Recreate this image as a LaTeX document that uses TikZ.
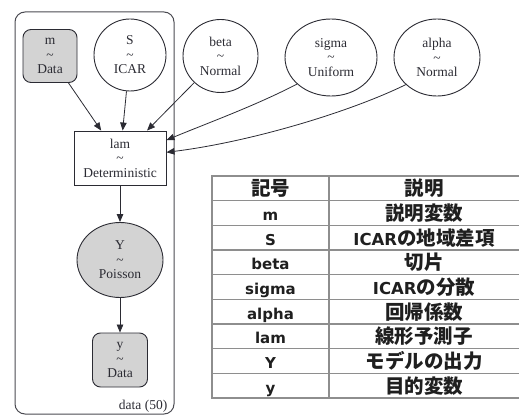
\documentclass[tikz,border=0pt]{standalone}
\usepackage{fontspec}
\setmainfont{Liberation Serif}
\newfontfamily\latb{DejaVu Sans}
\newfontfamily\cjk{Noto Sans CJK JP}
\usetikzlibrary{arrows.meta,shapes.geometric,calc}

\definecolor{obsfill}{HTML}{D3D3D3}
\definecolor{ink}{HTML}{2B2B33}
\definecolor{rulegray}{HTML}{8E8E8E}

% table cell fonts
\newcommand{\lt}[1]{{\latb\bfseries\fontsize{15}{15}\selectfont #1}}
\newcommand{\ltcap}[1]{{\latb\bfseries\fontsize{16.5}{16.5}\selectfont #1}}
\newcommand{\jp}[1]{{\cjk\bfseries\fontsize{19.5}{19.5}\selectfont #1}}

\begin{document}
\begin{tikzpicture}[x=1pt,y=-1pt,
  every node/.style={text=ink, inner sep=0pt, align=center,
    font=\fontsize{13.5}{14.5}\selectfont},
  rv/.style={draw=ink, line width=0.9pt, ellipse},
  obs/.style={draw=ink, line width=0.9pt, fill=obsfill, rounded corners=8pt},
  detbox/.style={draw=ink, line width=0.9pt, rectangle},
  edge/.style={draw=ink, line width=0.8pt, -{Triangle[length=8pt,width=6.5pt]}},
  cell/.style={anchor=base, text=black!88},
  tabline/.style={draw=rulegray, line width=1.3pt},
]
\useasboundingbox (0,0) rectangle (519,417);

% plate
\node[draw=ink!85, line width=1pt, rounded corners=10pt,
      minimum width=159pt, minimum height=402pt] (plate) at (94.5,213) {};
\node[anchor=base east] (platelbl) at ($(plate.south east)+(-7,-5)$) {data (50)};

% model nodes
\node[obs, minimum width=54pt, minimum height=53pt] (m) at (50,56) {m\\\textasciitilde\\Data};
\node[rv, minimum width=72pt, minimum height=72pt] (S) at (130,55) {S\\\textasciitilde\\ICAR};
\node[rv, minimum width=75pt, minimum height=73pt] (beta) at (220.5,56) {beta\\\textasciitilde\\Normal};
\node[rv, minimum width=92pt, minimum height=77pt] (sigma) at (331,57.5) {sigma\\\textasciitilde\\Uniform};
\node[rv, minimum width=86pt, minimum height=77pt] (alpha) at (437,57.5) {alpha\\\textasciitilde\\Normal};
\node[detbox, minimum width=92pt, minimum height=54pt] (lam) at (120,158) {lam\\\textasciitilde\\Deterministic};
\node[rv, fill=obsfill, minimum width=86pt, minimum height=75pt] (Y) at (120,260) {Y\\\textasciitilde\\Poisson};
\node[obs, minimum width=55pt, minimum height=54pt] (y) at (120,360) {y\\\textasciitilde\\Data};

% dependencies
\draw[edge] (m) -- (lam);
\draw[edge] (S) -- (lam);
\draw[edge] (beta) -- (lam);
\draw[edge] (sigma.218) .. controls (255,106) and (205,124) .. (lam.21);
\draw[edge] (alpha.221) .. controls (350,112) and (250,142) .. (lam.7);
\draw[edge] (lam) -- (Y);
\draw[edge] (Y) -- (y);

% symbol table
\foreach \k in {0,...,9} {
  \draw[tabline] (211.5,176+24.67*\k) -- (521,176+24.67*\k);
}
\draw[tabline] (212,175.4) -- (212,398.7);
\draw[tabline] (329,175.4) -- (329,398.7);

\node[cell] (h1) at (270.5,176+12.33+7.5) {\jp{記号}};
\node[cell] (h2) at (424,176+12.33+7.5) {\jp{説明}};
\node[cell] (l1) at (270.5,176+24.67*1+12.33+7.5) {\lt{m}};
\node[cell] (r1) at (424,176+24.67*1+12.33+7.5) {\jp{説明変数}};
\node[cell] (l2) at (270.5,176+24.67*2+12.33+7.5) {\lt{S}};
\node[cell] (r2) at (424,176+24.67*2+12.33+7.5) {\ltcap{ICAR}\jp{の地域差項}};
\node[cell] (l3) at (270.5,176+24.67*3+12.33+7.5) {\lt{beta}};
\node[cell] (r3) at (424,176+24.67*3+12.33+7.5) {\jp{切片}};
\node[cell] (l4) at (270.5,176+24.67*4+12.33+7.5) {\lt{sigma}};
\node[cell] (r4) at (424,176+24.67*4+12.33+7.5) {\ltcap{ICAR}\jp{の分散}};
\node[cell] (l5) at (270.5,176+24.67*5+12.33+7.5) {\lt{alpha}};
\node[cell] (r5) at (424,176+24.67*5+12.33+7.5) {\jp{回帰係数}};
\node[cell] (l6) at (270.5,176+24.67*6+12.33+7.5) {\lt{lam}};
\node[cell] (r6) at (424,176+24.67*6+12.33+7.5) {\jp{線形予測子}};
\node[cell] (l7) at (270.5,176+24.67*7+12.33+7.5) {\lt{Y}};
\node[cell] (r7) at (424,176+24.67*7+12.33+7.5) {\jp{モデルの出力}};
\node[cell] (l8) at (270.5,176+24.67*8+12.33+7.5) {\lt{y}};
\node[cell] (r8) at (424,176+24.67*8+12.33+7.5) {\jp{目的変数}};
\end{tikzpicture}
\end{document}
